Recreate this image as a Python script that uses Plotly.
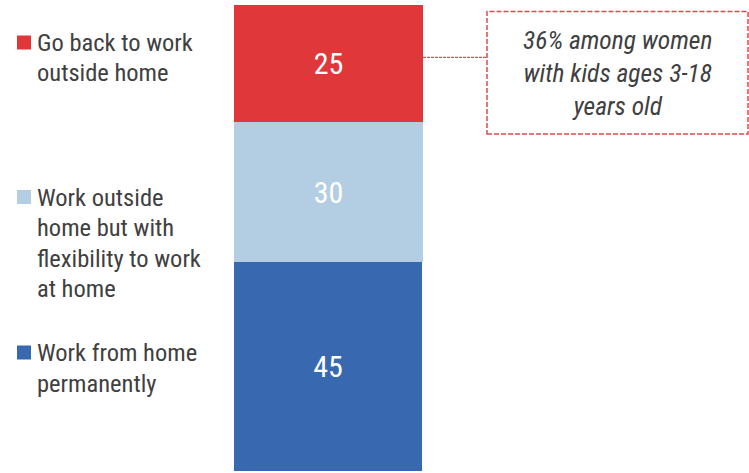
import plotly.graph_objects as go

# ---- data ----
categories = ["All"]
series_names = ["Work from home permanently",
                "Work outside home but with flexibility to work at home",
                "Go back to work outside home"]
series_values = [45, 30, 25]
series_colors = ["#3868B0", "#B3CDE3", "#E0373A"]
legend_lines = [
    ["Work from home", "permanently"],
    ["Work outside", "home but with", "flexibility to work", "at home"],
    ["Go back to work", "outside home"],
]
callout_text = "36% among women<br>with kids ages 3-18<br>years old"

W, H = 749, 473
FONT = "Liberation Sans Narrow, Arial Narrow, Roboto Condensed, Liberation Sans, Arial, sans-serif"
TXT = "#404040"

fig = go.Figure()
for name, val, col in zip(series_names, series_values, series_colors):
    fig.add_trace(go.Bar(
        x=[0], y=[val], name=name, width=1,
        marker=dict(color=col, line=dict(color="white", width=1 if col == "#3868B0" else 0)),
        text=[str(val)], textposition="inside", insidetextanchor="middle",
        textfont=dict(color="white", size=30, family=FONT),
        showlegend=False, hoverinfo="skip",
    ))

def px(x):
    return x / W

def py(y):
    return 1 - y / H

annotations = []
shapes = []
# legend (top-down order: red, light, blue)
legend_tops = [352.5, 197, 42.5]   # center of first line for blue, light, red
for lines, col, top in zip(legend_lines, series_colors, legend_tops):
    shapes.append(dict(type="rect", xref="paper", yref="paper",
                       x0=px(17), x1=px(31), y0=py(top + 7), y1=py(top - 7),
                       fillcolor=col, line=dict(width=0)))
    for i, ln in enumerate(lines):
        annotations.append(dict(xref="paper", yref="paper", x=px(34.5), y=py(top + i * 30.5),
                                text=ln, showarrow=False, xanchor="left", yanchor="middle",
                                font=dict(size=24.5, color=TXT, family=FONT)))

# callout box
shapes.append(dict(type="rect", xref="paper", yref="paper",
                   x0=px(487), x1=px(748), y0=py(134), y1=py(11.5),
                   line=dict(color="#E5474A", width=1.5, dash="5px,2px"), fillcolor="rgba(0,0,0,0)"))
shapes.append(dict(type="line", xref="paper", yref="paper",
                   x0=px(423), x1=px(487), y0=py(57.3), y1=py(57.3),
                   line=dict(color="#C82828", width=1, dash="3px,1px")))
annotations.append(dict(xref="paper", yref="paper", x=px(617.5), y=py(73),
                        text="<i>" + callout_text + "</i>", showarrow=False,
                        xanchor="center", yanchor="middle", align="center",
                        font=dict(size=25.5, color=TXT, family=FONT)))

scale = 4.67
fig.update_layout(
    width=W, height=H, barmode="stack",
    margin=dict(l=0, r=0, t=0, b=0),
    paper_bgcolor="white", plot_bgcolor="white",
    xaxis=dict(range=[-328.5 / 189, (W - 328.5) / 189], visible=False, fixedrange=True),
    yaxis=dict(range=[-(H - 472) / scale, 472 / scale], visible=False, fixedrange=True),
    annotations=annotations, shapes=shapes,
    bargap=0,
)
fig.write_html("out.html", config={"displayModeBar": False},
               post_script="document.body.style.margin='0';document.body.style.overflow='hidden';")
